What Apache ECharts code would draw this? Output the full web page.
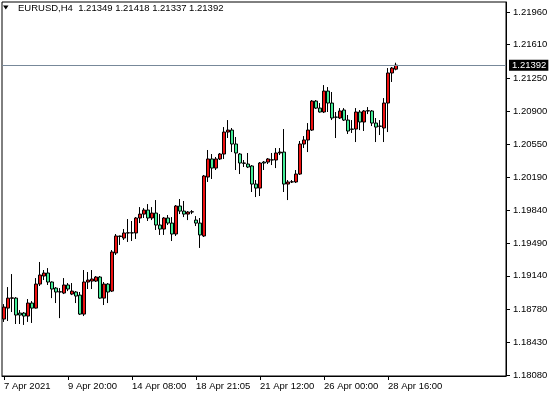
<!DOCTYPE html>
<html>
<head>
<meta charset="utf-8">
<script src="https://cdn.jsdelivr.net/npm/echarts@6/dist/echarts.min.js"></script>
<style>
html,body{margin:0;padding:0;background:#fff;}
#chart{width:553px;height:398px;}
</style>
</head>
<body>
<div id="chart"></div>
<script>
const symbolName = 'EURUSD,H4';
const timeLabels = ['7 Apr 2021','9 Apr 20:00','14 Apr 08:00','18 Apr 21:05','21 Apr 12:00','26 Apr 00:00','28 Apr 16:00'];
const barsPerLabel = 16;
const slotCount = 126;
const priceTicks = [1.18080,1.18430,1.18780,1.19140,1.19490,1.19840,1.20190,1.20550,1.20900,1.21250,1.21610,1.21960];

const opens = [1.18678,1.18795,1.18900,1.18902,1.18742,1.18742,1.18710,1.18849,1.18795,1.19052,
1.19138,1.19170,1.19074,1.19009,1.18967,1.18956,1.19042,1.18945,1.18967,1.18934,
1.18731,1.19074,1.19084,1.19084,1.19127,1.18902,1.19052,1.18977,1.19384,1.19566,
1.19544,1.19598,1.19600,1.19598,1.19758,1.19800,1.19843,1.19758,1.19811,1.19683,
1.19640,1.19758,1.19704,1.19587,1.19886,1.19832,1.19800,1.19822,1.19736,1.19704,
1.19566,1.20196,1.20389,1.20292,1.20389,1.20442,1.20677,1.20698,1.20549,1.20442,
1.20346,1.20335,1.20314,1.20121,1.20078,1.20356,1.20356,1.20378,1.20378,1.20453,
1.20463,1.20121,1.20143,1.20143,1.20228,1.20549,1.20592,1.20698,1.21008,1.20933,
1.20891,1.21115,1.20987,1.20837,1.20827,1.20912,1.20805,1.20709,1.20709,1.20891,
1.20784,1.20902,1.20902,1.20773,1.20741,1.20720,1.20987,1.21308,1.21349];
const closes = [1.18806,1.18902,1.18905,1.18721,1.18721,1.18710,1.18849,1.18795,1.19052,1.19149,
1.19170,1.19074,1.18999,1.18967,1.18970,1.19042,1.18999,1.18977,1.18924,1.18731,
1.19074,1.19095,1.19106,1.19127,1.18902,1.19052,1.18967,1.19395,1.19566,1.19560,
1.19598,1.19600,1.19598,1.19758,1.19800,1.19843,1.19758,1.19811,1.19683,1.19640,
1.19758,1.19704,1.19587,1.19886,1.19832,1.19800,1.19822,1.19825,1.19704,1.19577,
1.20207,1.20389,1.20292,1.20389,1.20442,1.20677,1.20698,1.20549,1.20453,1.20346,
1.20343,1.20303,1.20121,1.20078,1.20346,1.20346,1.20389,1.20380,1.20453,1.20463,
1.20121,1.20143,1.20145,1.20228,1.20549,1.20592,1.20698,1.21008,1.20933,1.20891,
1.21115,1.20987,1.20827,1.20835,1.20902,1.20805,1.20688,1.20706,1.20891,1.20784,
1.20902,1.20905,1.20773,1.20730,1.20738,1.20987,1.21308,1.21361,1.21392];
const lows = [1.18647,1.18657,1.18753,1.18625,1.18625,1.18615,1.18647,1.18636,1.18790,1.19031,
1.19095,1.19042,1.18902,1.18849,1.18688,1.18945,1.18977,1.18934,1.18849,1.18721,
1.18710,1.18999,1.18999,1.19074,1.18895,1.18828,1.18849,1.18967,1.19363,1.19470,
1.19523,1.19502,1.19512,1.19534,1.19704,1.19758,1.19726,1.19736,1.19630,1.19577,
1.19577,1.19683,1.19512,1.19566,1.19800,1.19768,1.19736,1.19800,1.19672,1.19438,
1.19555,1.20143,1.20175,1.20271,1.20378,1.20389,1.20613,1.20463,1.20271,1.20228,
1.20303,1.20292,1.20036,1.19982,1.19993,1.20271,1.20335,1.20324,1.20292,1.20431,
1.20036,1.19950,1.20132,1.20132,1.20218,1.20506,1.20463,1.20688,1.20923,1.20885,
1.20880,1.20891,1.20805,1.20613,1.20816,1.20795,1.20656,1.20667,1.20570,1.20698,
1.20688,1.20869,1.20741,1.20570,1.20645,1.20570,1.20677,1.21212,1.21337];
const highs = [1.18838,1.19020,1.19159,1.18913,1.18774,1.18753,1.18892,1.18870,1.19116,1.19288,
1.19202,1.19223,1.19080,1.19020,1.19009,1.19116,1.19063,1.19063,1.18977,1.18967,
1.19202,1.19181,1.19202,1.19138,1.19138,1.19074,1.19063,1.19416,1.19587,1.19570,
1.19640,1.19747,1.19726,1.19768,1.19875,1.19864,1.19907,1.19875,1.19950,1.19800,
1.19768,1.19790,1.19768,1.19897,1.19961,1.19940,1.19832,1.19843,1.19779,1.19758,
1.20218,1.20485,1.20442,1.20410,1.20453,1.20730,1.20805,1.20720,1.20624,1.20453,
1.20378,1.20453,1.20324,1.20164,1.20356,1.20367,1.20399,1.20453,1.20506,1.20506,
1.20709,1.20164,1.20164,1.20271,1.20581,1.20634,1.20773,1.21019,1.21019,1.20987,
1.21179,1.21158,1.21105,1.20891,1.20933,1.20933,1.20859,1.20805,1.20933,1.20912,
1.20912,1.20944,1.20912,1.20827,1.20805,1.21040,1.21361,1.21372,1.21418];

const FONT = '"Liberation Sans", Arial, sans-serif';
const FS = 9.5;

const categories = [];
for (let i = 0; i < slotCount; i++) categories.push(String(i));
const candleData = opens.map((o, i) => [o, closes[i], lows[i], highs[i]]);
const last = opens.length - 1;
const lastClose = closes[last];
const headerText = symbolName + '  ' + [opens[last], highs[last], lows[last], closes[last]].map(v => v.toFixed(5)).join(' ');
const showLabel = (idx) => idx % barsPerLabel === 0 && idx / barsPerLabel < timeLabels.length;

const chart = echarts.init(document.getElementById('chart'), null, {renderer: 'canvas'});
chart.setOption({
  animation: false,
  backgroundColor: '#fff',
  textStyle: {fontFamily: FONT},
  grid: {left: 2, right: 47, top: 2, bottom: 22, show: true, borderColor: '#000', borderWidth: 1, backgroundColor: 'transparent'},
  graphic: [
    {type: 'polygon', shape: {points: [[3, 5.5], [8.5, 5.5], [5.75, 9.5]]}, style: {fill: '#000'}},
    {type: 'text', left: 18, top: 3, style: {text: headerText, font: FS + 'px ' + FONT, fill: '#000'}}
  ],
  xAxis: {
    type: 'category',
    data: categories,
    boundaryGap: true,
    axisLine: {show: true, lineStyle: {color: '#000', width: 1}},
    axisTick: {show: true, alignWithLabel: true, length: 4, interval: (i) => showLabel(i), lineStyle: {color: '#000'}},
    axisLabel: {
      show: true, interval: (i) => showLabel(i), align: 'left', margin: 5,
      color: '#000', fontSize: FS, fontFamily: FONT,
      formatter: (v, i) => showLabel(i) ? timeLabels[i / barsPerLabel] : ''
    },
    splitLine: {show: false}
  },
  yAxis: {
    type: 'value',
    position: 'right',
    min: 1.180693,
    max: 1.220669,
    scale: true,
    axisLine: {show: true, lineStyle: {color: '#000', width: 1}},
    axisTick: {show: true, length: 4, customValues: priceTicks, lineStyle: {color: '#000'}},
    axisLabel: {
      show: true, customValues: priceTicks, margin: 7, color: '#000', fontSize: FS, fontFamily: FONT,
      formatter: (v) => v.toFixed(5)
    },
    splitLine: {show: false}
  },
  series: [{
    type: 'candlestick',
    data: candleData,
    barWidth: 3,
    z: 3,
    itemStyle: {
      color: '#ee1111', color0: '#44ee99',
      borderColor: '#000', borderColor0: '#000', borderWidth: 1
    }
  }, {
    type: 'line',
    data: closes,
    symbol: 'none',
    silent: true,
    z: 2,
    lineStyle: {opacity: 0, width: 0},
    markLine: {
      silent: true,
      symbol: ['none', 'none'],
      animation: false,
      precision: 5,
      data: [{yAxis: lastClose}],
      lineStyle: {color: '#778899', width: 1, type: 'solid'},
      label: {
        show: true, position: 'end', distance: 3,
        formatter: () => lastClose.toFixed(5),
        backgroundColor: '#000', color: '#fff', fontSize: FS, fontFamily: FONT,
        padding: [1, 2, 0, 3]
      },
      emphasis: {disabled: true}
    }
  }]
});
</script>
</body>
</html>
